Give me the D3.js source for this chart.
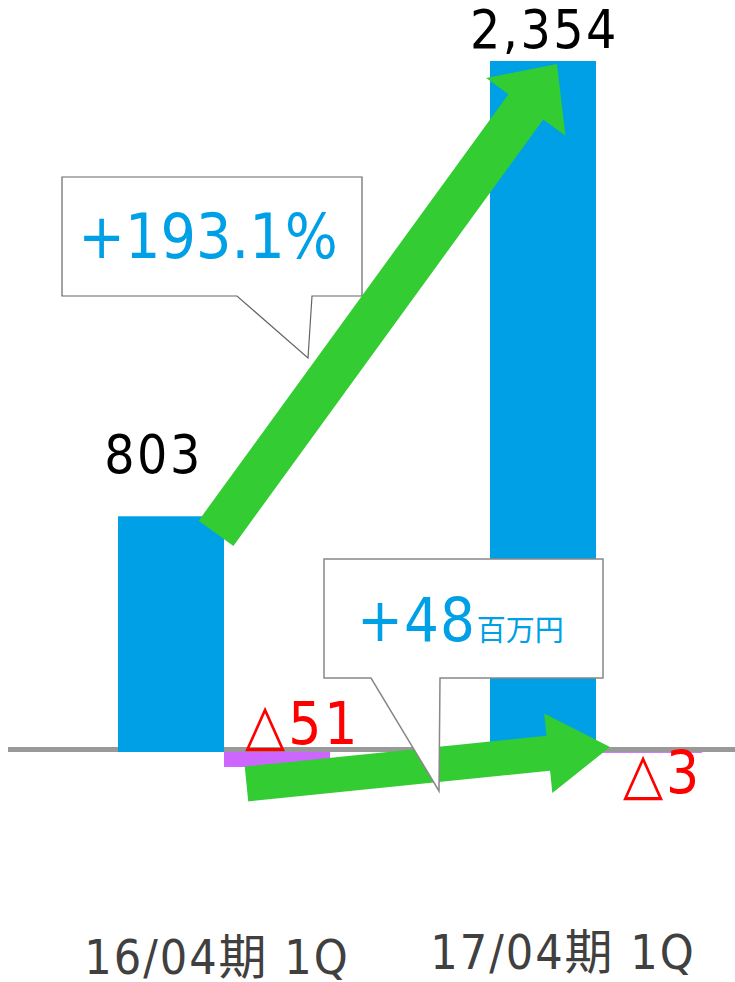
<!DOCTYPE html>
<html>
<head>
<meta charset="utf-8">
<script src="https://cdn.jsdelivr.net/npm/d3@7"></script>
<style>
  body { margin: 0; background: #fff; }
  svg text { font-family: "DejaVu Sans Condensed", "DejaVu Sans", "Noto Sans CJK JP", sans-serif; font-stretch: condensed; }
</style>
</head>
<body>
<svg id="chart" width="735" height="982"></svg>
<script>
// data
const categories = ["16/04期 1Q", "17/04期 1Q"];
const series = ["sales", "profit"];
const salesValues = [803, 2354];
const profitValues = [-51, -3];
const salesLabels = ["803", "2,354"];
const profitLabels = ["△51", "△3"];
const growthText = "+193.1%";
const diffValue = "+48";
const diffUnit = "百万円";

const colors = { sales: "#00a0e6", profit: "#cc66ff" };

const svg = d3.select("#chart");

// scales
const x0 = d3.scaleBand().domain(categories).range([118, 702]).paddingInner(0.43).paddingOuter(0);
const x1 = d3.scaleBand().domain(series).range([0, x0.bandwidth()]).padding(0);
const y = d3.scaleLinear().domain([0, 2354]).range([752, 61]);
const labelX = d3.scalePoint().domain(categories).range([217, 563]);

const rows = categories.map((c, i) => ({ cat: c, sales: salesValues[i], profit: profitValues[i] }));

// baseline
svg.append("line")
    .attr("x1", 8).attr("x2", 735)
    .attr("y1", y(0) - 2.5).attr("y2", y(0) - 2.5)
    .attr("stroke", "#999").attr("stroke-width", 5);

// bars
const groups = svg.selectAll("g.group").data(rows).join("g")
    .attr("class", "group")
    .attr("transform", d => `translate(${x0(d.cat)},0)`);

groups.selectAll("rect")
    .data(d => series.map(s => ({ key: s, value: d[s] })))
    .join("rect")
    .attr("x", d => x1(d.key))
    .attr("width", x1.bandwidth())
    .attr("y", d => Math.min(y(d.value), y(0)))
    .attr("height", d => Math.abs(y(d.value) - y(0)))
    .attr("fill", d => colors[d.key]);

// arrow polygon from start to tip
function arrow(s, e, w, hw, hl) {
    const dx = e[0] - s[0], dy = e[1] - s[1];
    const len = Math.hypot(dx, dy);
    const ux = dx / len, uy = dy / len;
    const nx = -uy, ny = ux;
    const b = [e[0] - ux * hl, e[1] - uy * hl];
    const p = (pt, k) => [pt[0] + nx * k, pt[1] + ny * k];
    return [p(s, w / 2), p(b, w / 2), p(b, hw / 2), e, p(b, -hw / 2), p(b, -w / 2), p(s, -w / 2)];
}
const line = d3.line();

const c1 = categories[0], c2 = categories[1];

// callout for growth rate
svg.append("path")
    .attr("d", "M62,177 H362 V296 H312 L308,358 L237,296 H62 Z")
    .attr("fill", "#fff").attr("stroke", "#666").attr("stroke-width", 1.2);
svg.append("text")
    .attr("x", 208).attr("y", 258)
    .attr("text-anchor", "middle")
    .attr("font-size", 62)
    .attr("fill", colors.sales)
    .text(growthText);

// green arrows
svg.append("path")
    .attr("d", line(arrow([x0(c1) + 98, y(salesValues[0]) + 17], [x0(c2) + 67, y(salesValues[1]) + 3], 43, 98, 53)) + "Z")
    .attr("fill", "#33cc33");
svg.append("path")
    .attr("d", line(arrow([x0(c1) + 128.5, y(profitValues[0]) + 17], [x0(c2) + 120, y(0) - 5], 35, 80, 62)) + "Z")
    .attr("fill", "#33cc33");

// callout for profit difference
svg.append("path")
    .attr("d", "M324,559 H603 V678 H440 L439,791 L371,678 H324 Z")
    .attr("fill", "#fff").attr("stroke", "#888").attr("stroke-width", 1.5);
const dt = svg.append("text")
    .attr("x", 357).attr("y", 641)
    .attr("fill", colors.sales);
dt.append("tspan").attr("font-size", 61).attr("letter-spacing", 1).text(diffValue);
dt.append("tspan").attr("font-size", 29).attr("dx", 1).text(diffUnit);

// value labels
svg.selectAll("text.sales").data(rows).join("text")
    .attr("class", "sales")
    .attr("x", (d, i) => x0(d.cat) + x1("sales") + x1.bandwidth() / 2 - (i === 0 ? 19 : 0) + 1.5)
    .attr("y", (d, i) => i === 0 ? 473 : 48)
    .attr("text-anchor", "middle")
    .attr("font-size", 53)
    .attr("letter-spacing", 2.5)
    .attr("fill", "#000")
    .text((d, i) => salesLabels[i]);

svg.selectAll("text.profit").data(rows).join("text")
    .attr("class", "profit")
    .attr("x", d => x0(d.cat) + x1("profit") + (d.cat === c1 ? 21 : 27))
    .attr("y", (d, i) => i === 0 ? 744 : 793)
    .attr("font-size", 58)
    .attr("letter-spacing", 3)
    .attr("fill", "#ff0000")
    .text((d, i) => profitLabels[i]);

// category labels
svg.selectAll("text.cat").data(categories).join("text")
    .attr("class", "cat")
    .attr("x", d => labelX(d))
    .attr("y", (d, i) => i === 0 ? 974 : 969)
    .attr("text-anchor", "middle")
    .attr("font-size", 48)
    .attr("letter-spacing", 2)
    .attr("fill", "#404040")
    .text(d => d);
</script>
</body>
</html>
